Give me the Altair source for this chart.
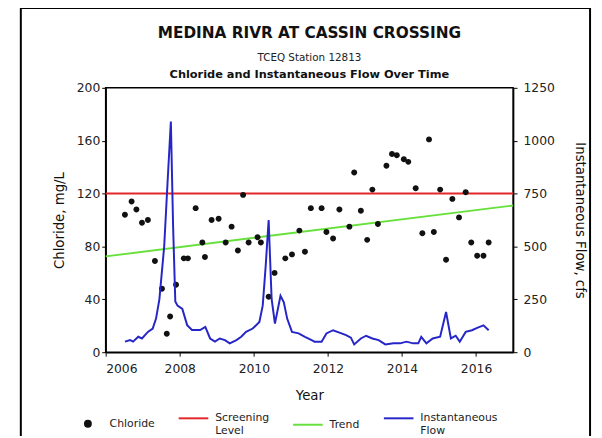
import altair as alt
import pandas as pd

FONT = "DejaVu Sans"

# ---------------- data ----------------
chloride_years = [2006.52, 2006.70, 2006.83, 2006.98, 2007.14, 2007.33, 2007.52, 2007.65, 2007.74, 2007.90,
                  2008.11, 2008.22, 2008.43, 2008.61, 2008.68, 2008.86, 2009.05, 2009.24, 2009.40, 2009.57,
                  2009.71, 2009.86, 2010.10, 2010.19, 2010.40, 2010.56, 2010.85, 2011.03, 2011.23, 2011.38,
                  2011.54, 2011.83, 2011.96, 2012.14, 2012.31, 2012.58, 2012.71, 2012.89, 2013.06, 2013.20,
                  2013.35, 2013.58, 2013.73, 2013.86, 2014.05, 2014.17, 2014.37, 2014.55, 2014.73, 2014.86,
                  2015.03, 2015.19, 2015.36, 2015.54, 2015.72, 2015.87, 2016.03, 2016.20, 2016.34]
chloride_vals = [104, 114, 108, 98, 100, 69, 48, 14, 27, 51,
                 71, 71, 109, 83, 72, 100, 101, 83, 95, 77,
                 119, 83, 87, 83, 42, 60, 71, 74, 92, 76,
                 109, 109, 91, 86, 108, 95, 136, 107, 85, 123,
                 97, 141, 150, 149, 146, 144, 124, 90, 161, 91,
                 123, 70, 116, 102, 121, 83, 73, 73, 83]

flow_years = [2006.52, 2006.66, 2006.74, 2006.88, 2006.98, 2007.14, 2007.27, 2007.36, 2007.45, 2007.58,
              2007.67, 2007.76, 2007.82, 2007.88, 2007.94, 2008.07, 2008.20, 2008.33, 2008.55, 2008.69,
              2008.82, 2008.95, 2009.08, 2009.22, 2009.35, 2009.53, 2009.66, 2009.79, 2009.97, 2010.15,
              2010.24, 2010.32, 2010.40, 2010.48, 2010.57, 2010.72, 2010.81, 2010.90, 2011.03, 2011.21,
              2011.38, 2011.56, 2011.64, 2011.83, 2011.96, 2012.14, 2012.31, 2012.49, 2012.62, 2012.71,
              2012.89, 2013.03, 2013.20, 2013.37, 2013.55, 2013.77, 2013.95, 2014.12, 2014.30, 2014.44,
              2014.52, 2014.66, 2014.83, 2015.03, 2015.19, 2015.32, 2015.45, 2015.56, 2015.72, 2015.89,
              2016.03, 2016.20, 2016.34]
flow_vals = [50, 57, 50, 73, 65, 96, 112, 159, 250, 500,
             800, 1091, 600, 240, 220, 205, 128, 105, 105, 120,
             65, 50, 65, 57, 42, 57, 73, 96, 112, 143,
             220, 407, 625, 252, 135, 267, 236, 159, 96, 89,
             73, 57, 50, 50, 89, 104, 93, 81, 69, 37,
             65, 78, 65, 57, 37, 42, 42, 50, 42, 42,
             73, 42, 65, 73, 190, 65, 78, 50, 96, 104,
             115, 127, 104]

screen_years = [2006, 2017]
screen_vals = [120, 120]
trend_years = [2006, 2017]
trend_vals = [72.5, 111]

series_names = ["Chloride", "Screening Level", "Trend", "Instantaneous Flow"]
series_colors = ["#111111", "#e3282b", "#66e03a", "#2626c8"]
x_ticks = [2006, 2008, 2010, 2012, 2014, 2016]
left_ticks = [0, 40, 80, 120, 160, 200]
right_ticks = [0, 250, 500, 750, 1000, 1250]

df_cl = pd.DataFrame({"year": chloride_years, "value": chloride_vals, "series": "Chloride"})
df_flow = pd.DataFrame({"year": flow_years, "value": flow_vals, "series": "Instantaneous Flow"})
df_screen = pd.DataFrame({"year": screen_years, "value": screen_vals, "series": "Screening Level"})
df_trend = pd.DataFrame({"year": trend_years, "value": trend_vals, "series": "Trend"})

# ---------------- encodings ----------------
dot_path = "M-0.2,0A0.2,0.2,0,1,1,0.2,0A0.2,0.2,0,1,1,-0.2,0Z"

legend = alt.Legend(
    title=None, orient="none", legendX=-34, legendY=319, direction="horizontal", columns=4,
    labelExpr="datum.label == 'Screening Level' ? ['Screening', 'Level'] : "
              "datum.label == 'Instantaneous Flow' ? ['Instantaneous', 'Flow'] : datum.label",
    symbolStrokeWidth=2, symbolSize=900, columnPadding=20, labelOffset=6,
    labelFont=FONT, labelFontSize=11, labelColor="#222222",
)
color_scale = alt.Scale(domain=series_names, range=series_colors)
color = alt.Color("series:N", scale=color_scale, legend=legend)

x_enc = alt.X("year:Q",
              scale=alt.Scale(domain=[2006, 2017], nice=False, zero=False),
              axis=alt.Axis(values=x_ticks, format="d", title="Year", labelPadding=7, titlePadding=13))

y_left = alt.Y("value:Q", scale=alt.Scale(domain=[0, 200], nice=False),
               axis=alt.Axis(values=left_ticks, format="d", title="Chloride, mg/L", orient="left",
                             titlePadding=10))
y_right = alt.Y("value:Q", scale=alt.Scale(domain=[0, 1250], nice=False),
                axis=alt.Axis(values=right_ticks, format="d", title="Instantaneous Flow, cfs",
                              orient="right", labelPadding=6, titlePadding=18))

points = alt.Chart(df_cl).mark_point(filled=True, size=900, opacity=1).encode(
    x=x_enc, y=y_left, color=color,
    shape=alt.Shape("series:N", scale=alt.Scale(domain=series_names,
                                                range=[dot_path, "stroke", "stroke", "stroke"]),
                    legend=legend),
)
screen = alt.Chart(df_screen).mark_line(strokeWidth=2).encode(x=x_enc, y=y_left, color=color)
trend = alt.Chart(df_trend).mark_line(strokeWidth=2).encode(x=x_enc, y=y_left, color=color)

subtitle2 = alt.Chart(alt.Data(values=[{"a": 1}])).mark_text(
    font=FONT, fontSize=11.5, fontWeight="bold", color="#111111", align="center", baseline="alphabetic"
).encode(x=alt.value(206.5), y=alt.value(-10), text=alt.value("Chloride and Instantaneous Flow Over Time"))

frame = alt.Chart(alt.Data(values=[{"a": 1}])).mark_rect(
    fillOpacity=0, stroke="black", strokeWidth=2, clip=False
).encode(x=alt.value(-86), x2=alt.value(491), y=alt.value(-81), y2=alt.value(360))

flow = alt.Chart(df_flow).mark_line(strokeWidth=2).encode(x=x_enc, y=y_right, color=color)

left = alt.layer(screen, trend, points, subtitle2, frame)
chart = alt.layer(left, flow).resolve_scale(y="independent").properties(
    width=413, height=268,
    background="white",
    autosize=alt.AutoSizeParams(type="none"),
    padding={"left": 99, "top": 78, "right": 82, "bottom": 82},
    title=alt.TitleParams(
        text="MEDINA RIVR AT CASSIN CROSSING", subtitle="TCEQ Station 12813",
        font=FONT, fontSize=15.5, fontWeight="bold", color="#111111",
        subtitleFont=FONT, subtitleFontSize=10.5, subtitleColor="#222222", subtitlePadding=12,
        anchor="middle", frame="group", offset=-57,
    ),
).configure_view(stroke="black", strokeWidth=1.5).configure_axis(
    grid=False, domainColor="black", domainWidth=1.5, tickColor="black", tickSize=4,
    labelFont=FONT, labelFontSize=12.5, labelColor="#222222",
    titleFont=FONT, titleFontSize=13.5, titleFontWeight="normal", titleColor="#111111",
)

chart.save("out.html", embed_options={"renderer": "svg", "actions": False})
